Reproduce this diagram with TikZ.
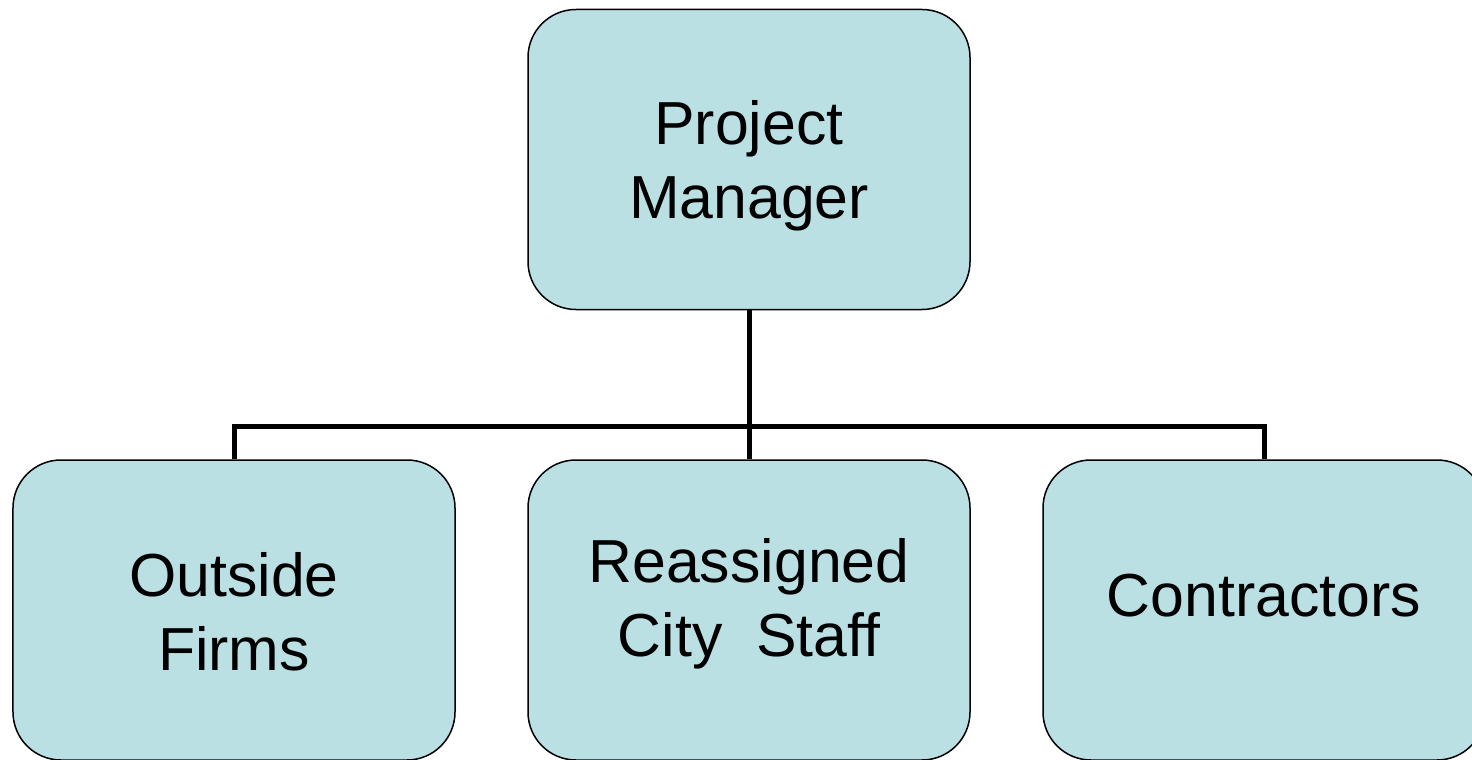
\documentclass[tikz,border=0pt]{standalone}
\usepackage{fontspec}
\setmainfont{Liberation Sans}
\definecolor{boxfill}{RGB}{187,224,227}
\tikzset{
  box/.style={draw=black, line width=1.5bp, fill=boxfill, rounded corners=48bp,
    minimum width=442bp, minimum height=300bp, inner sep=0pt},
  txt/.style={align=center, font=\fontsize{61}{74}\selectfont, inner sep=0pt},
  conn/.style={draw=black, line width=5bp}
}
\begin{document}
\begin{tikzpicture}[x=1bp,y=-1bp]
\clip (0,0) rectangle (1472,759);
\useasboundingbox (0,0) rectangle (1472,759);
\node[box] (pm) at (749,159.5) {};
\node[box] (of) at (234,610) {};
\node[box] (cs) at (749,610) {};
\node[box] (ct) at (1264,610) {};
\coordinate (j) at (749,426);
\draw[conn] (pm.south) -- (cs.north);
\draw[conn] (of.north) -- (of.north |- j) -- (ct.north |- j) -- (ct.north);
\node[txt] (tpm) at (749,166) {Project\\Manager};
\node[txt] (tof) at (234,612) {Outside\\Firms};
\node[txt] (tcs) at (749,604) {Reassigned\\City~~Staff};
\node[txt] (tct) at (1264,596) {Contractors};
\end{tikzpicture}
\end{document}
